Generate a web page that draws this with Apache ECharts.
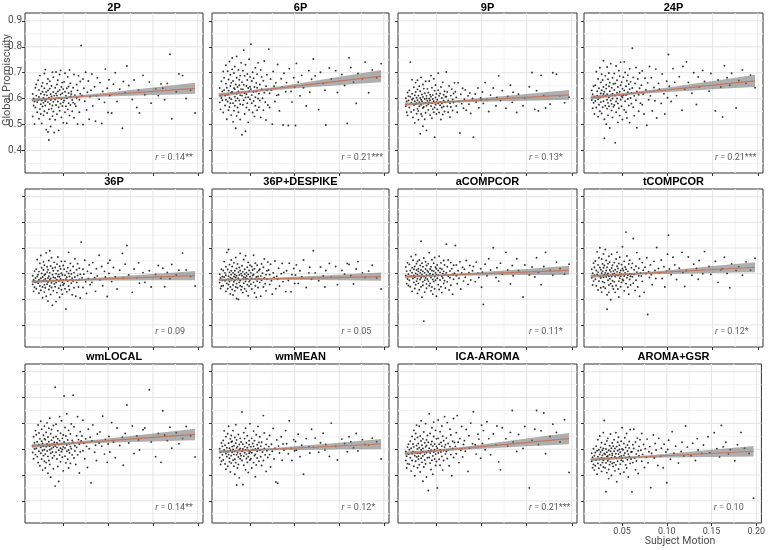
<!DOCTYPE html>
<html><head><meta charset="utf-8">
<script src="https://cdn.jsdelivr.net/npm/echarts@6/dist/echarts.min.js"></script>
<style>html,body{margin:0;padding:0;background:#fff}#c{width:768px;height:550px}</style>
</head><body><div id="c"></div>
<script>
// ---------------- data ----------------
const panelTitles = ['2P','6P','9P','24P','36P','36P+DESPIKE','aCOMPCOR','tCOMPCOR','wmLOCAL','wmMEAN','ICA-AROMA','AROMA+GSR'];
const rValues = ['0.14**','0.21***','0.13*','0.21***','0.09','0.05','0.11*','0.12*','0.14**','0.12*','0.21***','0.10'];
const yTickValues = [0.4,0.5,0.6,0.7,0.8,0.9];
const yMinorGrid = [0.35,0.45,0.55,0.65,0.75,0.85];
const xTickValues = [0.05,0.10,0.15,0.20];
const xMinorGrid = [0.025,0.075,0.125,0.175];

// subject motion (shared by all pipelines)
const motion = [
0.016,0.016,0.017,0.017,0.018,0.018,0.019,0.019,
0.020,0.020,0.021,0.021,0.022,0.022,0.023,0.023,0.023,0.024,0.024,0.025,0.025,0.025,0.026,0.026,0.026,0.027,0.027,0.027,0.028,0.028,0.028,0.029,0.029,0.029,0.029,0.030,
0.030,0.030,0.031,0.031,0.031,0.032,0.032,0.032,0.033,0.033,0.033,0.033,0.034,0.034,0.034,0.035,0.035,0.035,0.035,0.036,0.036,0.036,0.037,0.037,0.037,0.038,0.038,0.038,0.039,0.039,0.039,0.039,0.040,0.040,
0.041,0.041,0.041,0.042,0.042,0.042,0.043,0.043,0.043,0.044,0.044,0.044,0.045,0.045,0.045,0.046,0.046,0.046,0.047,0.047,0.047,0.048,0.048,0.048,0.049,0.049,0.049,0.050,0.050,0.050,
0.051,0.051,0.052,0.052,0.052,0.053,0.053,0.054,0.054,0.054,0.055,0.055,0.056,0.056,0.056,0.057,0.057,0.058,0.058,0.058,0.059,0.059,0.060,0.060,
0.061,0.061,0.062,0.062,0.063,0.063,0.064,0.065,0.065,0.066,0.066,0.067,0.068,0.068,0.069,0.069,0.070,
0.071,0.072,0.072,0.073,0.074,0.075,0.076,0.077,0.078,0.079,0.080,
0.081,0.082,0.083,0.085,0.086,0.087,0.088,0.090,
0.091,0.093,0.094,0.096,0.097,0.099,0.100,
0.101,0.102,0.104,0.106,0.108,0.110,0.113,0.116,0.117,0.119,
0.121,0.123,0.127,0.129,0.132,0.134,0.135,0.139,
0.141,0.146,0.148,0.153,0.156,0.159,
0.161,0.163,0.166,0.169,0.171,0.176,0.179,
0.183,0.187,0.192,0.197
];

const gp2P = [
0.532,0.618,0.601,0.574,0.503,0.589,0.642,0.566,
0.655,0.612,0.548,0.587,0.671,0.596,0.523,0.634,0.607,0.560,0.689,0.579,0.619,0.541,0.648,0.593,0.505,0.627,0.570,0.661,0.603,0.584,0.536,0.615,0.697,0.552,0.640,0.591,
0.712,0.574,0.626,0.481,0.598,0.658,0.545,0.613,0.472,0.587,0.676,0.632,0.559,0.604,0.441,0.639,0.580,0.521,0.667,0.595,0.617,0.493,0.649,0.562,0.609,0.702,0.574,0.533,0.626,0.588,0.683,0.551,0.612,0.470,
0.597,0.642,0.519,0.620,0.703,0.576,0.655,0.540,0.612,0.589,0.671,0.628,0.478,0.603,0.567,0.693,0.634,0.554,0.616,0.581,0.709,0.528,0.645,0.599,0.662,0.572,0.621,0.507,0.586,0.637,
0.665,0.593,0.548,0.627,0.698,0.612,0.571,0.640,0.506,0.602,0.684,0.559,0.622,0.647,0.583,0.711,0.535,0.609,0.660,0.576,0.628,0.617,0.595,0.552,
0.642,0.585,0.693,0.527,0.614,0.580,0.571,0.655,0.603,0.503,0.632,0.688,0.596,0.548,0.619,0.666,0.805,
0.613,0.676,0.501,0.640,0.590,0.702,0.557,0.625,0.668,0.521,0.608,
0.633,0.695,0.572,0.646,0.513,0.612,0.681,0.598,
0.662,0.505,0.628,0.586,0.714,0.640,0.547,
0.673,0.612,0.545,0.656,0.700,0.589,0.637,0.486,0.666,0.623,
0.726,0.651,0.597,0.672,0.566,0.634,0.545,0.690,
0.615,0.664,0.583,0.638,0.612,0.657,
0.640,0.596,0.659,0.771,0.523,0.627,0.695,
0.689,0.601,0.633,0.545
];
const gp6P = [
0.586,0.641,0.612,0.559,0.667,0.603,0.628,0.594,
0.705,0.547,0.633,0.681,0.574,0.612,0.729,0.596,0.658,0.521,0.642,0.589,0.706,0.615,0.556,0.674,0.631,0.604,0.743,0.568,0.649,0.583,0.692,0.537,0.624,0.661,0.598,0.713,
0.626,0.757,0.583,0.511,0.668,0.641,0.554,0.699,0.608,0.573,0.724,0.637,0.486,0.655,0.592,0.681,0.619,0.534,0.763,0.645,0.566,0.602,0.711,0.628,0.548,0.673,0.593,0.652,0.520,0.689,0.614,0.579,0.738,0.637,
0.664,0.461,0.612,0.708,0.577,0.636,0.787,0.594,0.654,0.541,0.688,0.622,0.475,0.605,0.731,0.649,0.566,0.617,0.695,0.583,0.672,0.509,0.641,0.606,0.752,0.629,0.557,0.684,0.598,0.646,
0.637,0.810,0.583,0.668,0.614,0.547,0.702,0.626,0.591,0.679,0.532,0.645,0.719,0.606,0.573,0.661,0.628,0.694,0.556,0.642,0.601,0.738,0.619,0.567,
0.655,0.593,0.711,0.528,0.637,0.684,0.602,0.556,0.669,0.623,0.745,0.587,0.648,0.518,0.692,0.632,0.576,
0.791,0.621,0.566,0.676,0.634,0.502,0.705,0.648,0.589,0.661,0.613,
0.732,0.615,0.553,0.677,0.644,0.499,0.698,0.627,
0.662,0.497,0.716,0.628,0.587,0.681,0.645,
0.497,0.736,0.664,0.611,0.690,0.642,0.572,0.708,0.625,0.675,
0.753,0.688,0.558,0.702,0.659,0.633,0.499,0.718,
0.676,0.708,0.624,0.693,0.651,0.505,
0.758,0.720,0.664,0.582,0.697,0.677,0.741,
0.623,0.711,0.681,0.735
];
const gp9P = [
0.571,0.602,0.548,0.589,0.624,0.536,0.593,0.610,
0.632,0.566,0.608,0.741,0.585,0.549,0.619,0.597,0.673,0.528,0.601,0.576,0.644,0.557,0.613,0.590,0.507,0.626,0.579,0.662,0.542,0.604,0.583,0.636,0.561,0.671,0.594,0.519,
0.612,0.553,0.587,0.648,0.571,0.465,0.603,0.629,0.541,0.596,0.682,0.577,0.616,0.533,0.590,0.655,0.564,0.607,0.494,0.582,0.639,0.568,0.599,0.521,0.621,0.584,0.546,0.667,0.601,0.573,0.478,0.611,0.592,0.638,
0.579,0.624,0.557,0.601,0.668,0.586,0.537,0.615,0.594,0.689,0.572,0.608,0.525,0.583,0.642,0.560,0.599,0.614,0.548,0.677,0.590,0.566,0.631,0.452,0.605,0.578,0.653,0.587,0.541,0.619,
0.596,0.559,0.633,0.582,0.698,0.611,0.547,0.575,0.620,0.588,0.520,0.645,0.566,0.603,0.582,0.663,0.539,0.615,0.592,0.570,0.629,0.551,0.608,0.586,
0.608,0.703,0.571,0.626,0.548,0.593,0.649,0.583,0.529,0.612,0.568,0.637,0.597,0.555,0.620,0.585,0.661,
0.627,0.572,0.605,0.548,0.661,0.589,0.468,0.617,0.581,0.640,0.563,
0.598,0.634,0.556,0.611,0.579,0.622,0.543,0.601,
0.452,0.618,0.587,0.641,0.565,0.603,0.596,
0.626,0.582,0.662,0.597,0.551,0.614,0.641,0.573,0.605,0.688,
0.593,0.631,0.563,0.609,0.652,0.586,0.625,0.547,
0.617,0.573,0.604,0.646,0.701,0.559,
0.631,0.553,0.690,0.612,0.564,0.579,0.700,
0.694,0.611,0.584,0.606
];
const gp24P = [
0.595,0.632,0.563,0.617,0.648,0.584,0.607,0.541,
0.652,0.591,0.704,0.566,0.629,0.612,0.531,0.676,0.598,0.640,0.577,0.719,0.605,0.552,0.663,0.620,0.587,0.694,0.543,0.633,0.609,0.672,0.567,0.618,0.746,0.590,0.645,0.521,
0.448,0.627,0.688,0.573,0.611,0.654,0.502,0.639,0.596,0.722,0.562,0.617,0.675,0.584,0.536,0.648,0.605,0.699,0.571,0.629,0.487,0.662,0.593,0.613,0.735,0.555,0.642,0.580,0.681,0.619,0.528,0.601,0.657,0.569,
0.634,0.576,0.697,0.612,0.430,0.659,0.589,0.726,0.548,0.623,0.671,0.601,0.509,0.645,0.582,0.708,0.616,0.563,0.687,0.627,0.535,0.652,0.596,0.741,0.610,0.571,0.664,0.520,0.639,0.605,
0.683,0.613,0.557,0.742,0.632,0.590,0.701,0.548,0.648,0.614,0.669,0.526,0.625,0.691,0.599,0.574,0.656,0.637,0.508,0.715,0.603,0.665,0.581,0.622,
0.794,0.641,0.567,0.682,0.611,0.534,0.659,0.720,0.594,0.628,0.488,0.676,0.615,0.552,0.699,0.640,0.583,
0.652,0.577,0.707,0.617,0.541,0.679,0.634,0.498,0.661,0.596,0.724,
0.611,0.681,0.553,0.643,0.592,0.714,0.526,0.659,
0.637,0.582,0.695,0.619,0.541,0.667,0.604,
0.770,0.648,0.589,0.716,0.663,0.612,0.685,0.556,0.724,0.637,
0.742,0.663,0.621,0.700,0.578,0.684,0.645,0.709,
0.666,0.629,0.697,0.553,0.672,0.645,
0.530,0.727,0.681,0.652,0.698,0.564,0.670,
0.711,0.659,0.691,0.642
];
const gp36P = [
0.558,0.592,0.531,0.575,0.610,0.547,0.583,0.566,
0.617,0.541,0.589,0.655,0.563,0.596,0.524,0.608,0.576,0.640,0.552,0.582,0.671,0.535,0.601,0.569,0.623,0.548,0.587,0.506,0.614,0.573,0.646,0.557,0.594,0.528,0.633,0.579,
0.598,0.545,0.681,0.571,0.512,0.606,0.559,0.627,0.583,0.493,0.615,0.567,0.651,0.538,0.590,0.575,0.689,0.552,0.603,0.519,0.630,0.581,0.564,0.662,0.546,0.596,0.477,0.621,0.572,0.611,0.533,0.586,0.644,0.560,
0.583,0.624,0.549,0.600,0.565,0.491,0.637,0.576,0.526,0.611,0.589,0.665,0.543,0.597,0.571,0.629,0.508,0.588,0.554,0.619,0.579,0.648,0.537,0.602,0.566,0.595,0.520,0.632,0.575,0.556,
0.617,0.562,0.594,0.541,0.648,0.578,0.462,0.608,0.586,0.529,0.623,0.571,0.601,0.552,0.683,0.589,0.537,0.612,0.575,0.640,0.563,0.599,0.518,0.582,
0.628,0.571,0.545,0.604,0.658,0.587,0.512,0.615,0.566,0.639,0.593,0.548,0.577,0.621,0.505,0.598,0.723,
0.584,0.617,0.546,0.598,0.652,0.568,0.523,0.609,0.581,0.634,0.557,
0.602,0.566,0.643,0.584,0.531,0.619,0.591,0.672,
0.576,0.628,0.553,0.609,0.587,0.511,0.641,
0.601,0.652,0.569,0.624,0.588,0.540,0.613,0.679,0.582,0.637,
0.710,0.595,0.527,0.618,0.584,0.642,0.563,0.604,
0.566,0.611,0.548,0.597,0.632,0.582,
0.621,0.549,0.605,0.580,0.636,0.595,0.613,
0.680,0.614,0.590,0.552
];
const gp36PDespike = [
0.565,0.598,0.542,0.583,0.617,0.552,0.589,0.574,
0.612,0.553,0.587,0.647,0.572,0.603,0.531,0.594,0.627,0.562,0.683,0.578,0.541,0.616,0.590,0.694,0.557,0.605,0.569,0.635,0.548,0.584,0.521,0.611,0.576,0.653,0.596,0.538,
0.581,0.628,0.556,0.603,0.517,0.589,0.642,0.568,0.611,0.533,0.597,0.574,0.663,0.548,0.585,0.620,0.503,0.592,0.561,0.638,0.577,0.545,0.606,0.582,0.499,0.624,0.566,0.595,0.679,0.553,0.612,0.573,0.537,0.600,
0.592,0.549,0.631,0.578,0.607,0.526,0.586,0.655,0.563,0.598,0.617,0.541,0.583,0.670,0.570,0.604,0.532,0.591,0.625,0.557,0.580,0.644,0.514,0.597,0.569,0.612,0.551,0.588,0.633,0.575,
0.603,0.559,0.628,0.581,0.540,0.614,0.593,0.672,0.566,0.597,0.525,0.619,0.578,0.641,0.553,0.587,0.508,0.606,0.571,0.633,0.589,0.546,0.612,0.580,
0.566,0.617,0.591,0.512,0.638,0.574,0.602,0.548,0.625,0.583,0.657,0.561,0.596,0.533,0.611,0.578,0.645,
0.614,0.558,0.596,0.637,0.572,0.520,0.603,0.585,0.649,0.541,0.590,
0.578,0.621,0.552,0.600,0.640,0.569,0.605,0.530,
0.611,0.573,0.641,0.529,0.596,0.620,0.562,
0.595,0.634,0.562,0.611,0.587,0.653,0.546,0.603,0.625,0.578,
0.689,0.603,0.572,0.626,0.591,0.548,0.612,0.640,
0.586,0.628,0.557,0.612,0.598,0.640,
0.636,0.592,0.560,0.618,0.647,0.603,0.585,
0.610,0.633,0.583,0.540
];
const gpACompCor = [
0.593,0.626,0.561,0.610,0.579,0.642,0.554,0.598,
0.636,0.574,0.612,0.549,0.667,0.590,0.623,0.531,0.604,0.581,0.652,0.566,0.617,0.593,0.542,0.628,0.586,0.674,0.557,0.601,0.639,0.571,0.614,0.523,0.596,0.648,0.580,0.609,
0.562,0.619,0.591,0.653,0.537,0.603,0.577,0.632,0.549,0.614,0.726,0.584,0.508,0.597,0.641,0.568,0.609,0.555,0.627,0.589,0.415,0.661,0.574,0.603,0.528,0.618,0.583,0.646,0.560,0.595,0.632,0.543,0.611,0.578,
0.606,0.571,0.639,0.553,0.594,0.682,0.618,0.562,0.600,0.533,0.627,0.585,0.654,0.548,0.612,0.577,0.520,0.597,0.641,0.569,0.610,0.589,0.663,0.541,0.603,0.625,0.574,0.596,0.512,0.619,
0.582,0.634,0.557,0.612,0.594,0.668,0.538,0.605,0.621,0.575,0.549,0.642,0.590,0.617,0.526,0.600,0.583,0.651,0.562,0.609,0.572,0.634,0.544,0.597,
0.715,0.604,0.568,0.627,0.591,0.653,0.536,0.610,0.584,0.643,0.555,0.619,0.597,0.520,0.633,0.578,0.602,
0.710,0.592,0.634,0.561,0.611,0.582,0.646,0.540,0.603,0.625,0.571,
0.617,0.586,0.651,0.558,0.604,0.632,0.575,0.611,
0.628,0.569,0.645,0.602,0.585,0.619,0.547,
0.606,0.480,0.637,0.592,0.658,0.614,0.701,0.585,0.623,0.571,
0.641,0.598,0.683,0.614,0.560,0.632,0.592,0.658,
0.612,0.509,0.634,0.595,0.626,0.587,
0.662,0.605,0.557,0.628,0.683,0.613,0.594,
0.645,0.620,0.598,0.637
];
const gpTCompCor = [
0.584,0.617,0.556,0.602,0.641,0.571,0.593,0.625,
0.649,0.578,0.612,0.553,0.685,0.597,0.634,0.536,0.606,0.662,0.571,0.624,0.590,0.701,0.545,0.615,0.583,0.657,0.602,0.528,0.638,0.569,0.609,0.677,0.586,0.623,0.549,0.596,
0.632,0.565,0.603,0.694,0.543,0.612,0.587,0.651,0.518,0.596,0.625,0.461,0.574,0.639,0.601,0.556,0.668,0.590,0.527,0.614,0.580,0.645,0.561,0.607,0.498,0.622,0.589,0.676,0.551,0.598,0.633,0.572,0.610,0.540,
0.601,0.643,0.568,0.615,0.589,0.527,0.657,0.596,0.554,0.629,0.607,0.683,0.540,0.593,0.620,0.571,0.640,0.509,0.604,0.582,0.664,0.549,0.612,0.590,0.635,0.566,0.598,0.705,0.577,0.620,
0.612,0.573,0.648,0.591,0.533,0.626,0.603,0.762,0.561,0.617,0.584,0.669,0.547,0.609,0.594,0.638,0.520,0.600,0.577,0.652,0.590,0.556,0.623,0.598,
0.640,0.588,0.737,0.563,0.615,0.597,0.534,0.629,0.574,0.682,0.606,0.548,0.621,0.592,0.657,0.512,0.603,
0.591,0.643,0.570,0.613,0.527,0.625,0.600,0.662,0.441,0.608,0.585,
0.634,0.596,0.557,0.648,0.612,0.581,0.702,0.620,
0.603,0.653,0.581,0.627,0.548,0.610,0.676,
0.750,0.618,0.596,0.664,0.634,0.577,0.621,0.683,0.604,0.550,
0.612,0.665,0.594,0.637,0.620,0.578,0.651,0.600,
0.686,0.628,0.597,0.648,0.566,0.615,
0.619,0.664,0.601,0.545,0.638,0.612,0.627,
0.594,0.646,0.613,0.660
];
const gpWmLocal = [
0.612,0.587,0.648,0.563,0.625,0.601,0.672,0.579,
0.603,0.656,0.571,0.629,0.694,0.548,0.617,0.592,0.663,0.536,0.640,0.584,0.708,0.607,0.562,0.631,0.677,0.595,0.519,0.622,0.654,0.575,0.611,0.689,0.553,0.640,0.598,0.527,
0.637,0.581,0.665,0.609,0.548,0.702,0.620,0.593,0.507,0.647,0.572,0.614,0.681,0.556,0.629,0.598,0.720,0.541,0.612,0.660,0.584,0.491,0.635,0.603,0.676,0.566,0.619,0.589,0.645,0.524,0.608,0.692,0.575,0.627,
0.840,0.612,0.457,0.649,0.588,0.697,0.625,0.562,0.607,0.671,0.533,0.640,0.596,0.475,0.618,0.726,0.577,0.633,0.604,0.551,0.662,0.590,0.710,0.621,0.569,0.642,0.599,0.516,0.655,0.609,
0.806,0.628,0.573,0.684,0.605,0.547,0.651,0.616,0.592,0.737,0.561,0.636,0.597,0.673,0.527,0.621,0.586,0.659,0.610,0.545,0.698,0.602,0.634,0.578,
0.809,0.626,0.566,0.687,0.613,0.593,0.541,0.652,0.607,0.726,0.578,0.637,0.508,0.619,0.668,0.590,0.632,
0.651,0.594,0.712,0.623,0.563,0.640,0.611,0.529,0.677,0.602,0.646,
0.470,0.633,0.694,0.588,0.615,0.556,0.659,0.624,
0.667,0.612,0.728,0.581,0.638,0.549,0.620,
0.649,0.589,0.703,0.628,0.567,0.682,0.614,0.646,0.538,0.661,
0.771,0.624,0.690,0.583,0.651,0.636,0.597,0.675,
0.682,0.830,0.628,0.571,0.661,0.549,
0.749,0.655,0.633,0.685,0.604,0.664,0.621,
0.641,0.688,0.652,0.570
];
const gpWmMean = [
0.567,0.602,0.541,0.589,0.624,0.553,0.578,0.611,
0.634,0.558,0.597,0.671,0.543,0.615,0.583,0.648,0.522,0.606,0.571,0.660,0.591,0.534,0.623,0.579,0.689,0.551,0.604,0.565,0.640,0.512,0.596,0.628,0.575,0.653,0.546,0.610,
0.588,0.631,0.557,0.599,0.672,0.534,0.613,0.580,0.645,0.503,0.592,0.561,0.623,0.695,0.548,0.605,0.461,0.578,0.636,0.586,0.527,0.610,0.570,0.657,0.541,0.597,0.618,0.489,0.582,0.642,0.563,0.603,0.575,0.628,
0.744,0.592,0.556,0.619,0.463,0.601,0.664,0.573,0.538,0.610,0.586,0.641,0.520,0.597,0.681,0.564,0.625,0.580,0.549,0.606,0.652,0.571,0.595,0.510,0.633,0.584,0.617,0.558,0.699,0.590,
0.609,0.563,0.642,0.586,0.527,0.622,0.598,0.670,0.548,0.611,0.575,0.633,0.493,0.601,0.580,0.656,0.539,0.617,0.592,0.566,0.688,0.604,0.553,0.626,
0.596,0.648,0.571,0.612,0.537,0.627,0.589,0.730,0.556,0.603,0.663,0.578,0.618,0.514,0.594,0.639,0.568,
0.610,0.579,0.653,0.531,0.619,0.592,0.680,0.562,0.604,0.473,0.636,
0.468,0.612,0.585,0.648,0.557,0.620,0.597,0.672,
0.621,0.582,0.710,0.603,0.556,0.637,0.594,
0.630,0.596,0.658,0.571,0.615,0.503,0.641,0.609,0.585,0.677,
0.607,0.643,0.588,0.625,0.662,0.597,0.618,0.572,
0.701,0.611,0.558,0.639,0.622,0.590,
0.648,0.629,0.605,0.661,0.593,0.637,0.618,
0.617,0.643,0.629,0.562
];
const gpIcaAroma = [
0.556,0.591,0.527,0.573,0.608,0.544,0.581,0.619,
0.598,0.542,0.631,0.567,0.604,0.515,0.649,0.582,0.556,0.620,0.591,0.673,0.534,0.609,0.575,0.638,0.497,0.587,0.661,0.553,0.614,0.570,0.693,0.528,0.601,0.584,0.645,0.561,
0.622,0.573,0.689,0.540,0.606,0.583,0.651,0.512,0.597,0.632,0.565,0.710,0.549,0.615,0.588,0.476,0.640,0.574,0.603,0.531,0.667,0.590,0.558,0.625,0.580,0.699,0.543,0.609,0.492,0.636,0.586,0.614,0.567,0.653,
0.593,0.440,0.627,0.568,0.737,0.604,0.546,0.661,0.585,0.521,0.618,0.596,0.683,0.557,0.630,0.574,0.612,0.503,0.649,0.589,0.705,0.562,0.620,0.598,0.537,0.673,0.581,0.611,0.552,0.640,
0.604,0.450,0.642,0.585,0.713,0.619,0.561,0.597,0.668,0.538,0.626,0.589,0.690,0.572,0.612,0.519,0.650,0.595,0.633,0.556,0.608,0.726,0.581,0.617,
0.643,0.591,0.703,0.564,0.622,0.598,0.536,0.677,0.610,0.579,0.655,0.497,0.631,0.603,0.719,0.568,0.626,
0.611,0.664,0.582,0.730,0.627,0.548,0.641,0.596,0.688,0.570,0.618,
0.633,0.592,0.676,0.514,0.652,0.604,0.701,0.621,
0.745,0.617,0.581,0.658,0.639,0.565,0.693,
0.622,0.672,0.598,0.706,0.641,0.578,0.659,0.616,0.690,0.551,
0.520,0.683,0.640,0.612,0.665,0.750,0.628,0.591,
0.657,0.603,0.688,0.450,0.634,0.677,
0.750,0.618,0.671,0.740,0.582,0.649,0.697,
0.665,0.628,0.714,0.510
];
const gpAromaGsr = [
0.553,0.584,0.528,0.569,0.602,0.541,0.575,0.519,
0.587,0.536,0.612,0.558,0.594,0.503,0.571,0.637,0.545,0.598,0.526,0.580,0.651,0.561,0.607,0.539,0.589,0.514,0.625,0.567,0.596,0.548,0.576,0.664,0.531,0.603,0.557,0.583,
0.711,0.564,0.528,0.619,0.580,0.435,0.547,0.601,0.571,0.632,0.509,0.588,0.555,0.642,0.574,0.521,0.596,0.563,0.486,0.613,0.579,0.540,0.659,0.592,0.551,0.604,0.567,0.498,0.583,0.624,0.545,0.576,0.612,0.533,
0.592,0.548,0.637,0.571,0.516,0.603,0.582,0.664,0.539,0.610,0.565,0.474,0.594,0.627,0.553,0.581,0.646,0.523,0.599,0.570,0.615,0.542,0.588,0.505,0.631,0.574,0.557,0.601,0.683,0.566,
0.598,0.553,0.622,0.576,0.511,0.644,0.585,0.539,0.607,0.568,0.661,0.527,0.593,0.616,0.559,0.581,0.492,0.630,0.572,0.605,0.545,0.676,0.589,0.562,
0.435,0.590,0.617,0.548,0.677,0.603,0.566,0.520,0.628,0.581,0.554,0.643,0.594,0.506,0.611,0.575,0.637,
0.596,0.553,0.661,0.580,0.618,0.529,0.602,0.569,0.639,0.547,0.590,
0.610,0.451,0.583,0.655,0.566,0.622,0.597,0.537,
0.642,0.573,0.604,0.528,0.619,0.589,0.470,
0.599,0.635,0.561,0.668,0.584,0.612,0.546,0.591,0.627,0.574,
0.690,0.608,0.575,0.623,0.556,0.641,0.597,0.583,
0.616,0.648,0.585,0.664,0.602,0.570,
0.692,0.609,0.627,0.581,0.598,0.555,0.617,
0.665,0.604,0.583,0.410
];
const panelValues = [gp2P, gp6P, gp9P, gp24P, gp36P, gp36PDespike, gpACompCor, gpTCompCor, gpWmLocal, gpWmMean, gpIcaAroma, gpAromaGsr];

// fitted regression line, read at its two ends
const fitX = [0.015, 0.197];
const fitStart = [0.595,0.614,0.578,0.604,0.569,0.576,0.588,0.590,0.612,0.590,0.583,0.560];
const fitEnd   = [0.640,0.687,0.615,0.669,0.592,0.588,0.613,0.625,0.657,0.620,0.641,0.592];
// confidence band half-width read at these x positions
const bandX = [0.015,0.035,0.055,0.08,0.10,0.125,0.15,0.175,0.197];
const bandHalf = [
[0.0072,0.0052,0.0045,0.0057,0.0078,0.0110,0.0144,0.0179,0.0210],
[0.0081,0.0058,0.0049,0.0063,0.0087,0.0123,0.0161,0.0200,0.0235],
[0.0065,0.0047,0.0040,0.0051,0.0071,0.0100,0.0130,0.0162,0.0190],
[0.0081,0.0058,0.0049,0.0063,0.0087,0.0123,0.0161,0.0200,0.0235],
[0.0062,0.0045,0.0038,0.0048,0.0067,0.0095,0.0123,0.0153,0.0180],
[0.0055,0.0040,0.0034,0.0043,0.0060,0.0084,0.0110,0.0136,0.0160],
[0.0060,0.0043,0.0036,0.0047,0.0065,0.0092,0.0120,0.0149,0.0175],
[0.0067,0.0048,0.0040,0.0052,0.0073,0.0102,0.0134,0.0166,0.0195],
[0.0077,0.0056,0.0047,0.0061,0.0084,0.0118,0.0154,0.0191,0.0225],
[0.0065,0.0047,0.0040,0.0051,0.0071,0.0100,0.0130,0.0162,0.0190],
[0.0076,0.0055,0.0046,0.0059,0.0082,0.0116,0.0151,0.0187,0.0220],
[0.0071,0.0051,0.0043,0.0055,0.0076,0.0108,0.0141,0.0174,0.0205]
];
const annotX = 0.152, annotY = 0.372;

// ---------------- layout / style ----------------
const X_MIN = 0.0074, X_MAX = 0.2058, Y_MIN = 0.314, Y_MAX = 0.93;
const colLeft = [25, 212, 398, 584], colWidth = [178, 177, 179, 179];
const rowTop = [13, 189, 364], rowHeight = [160, 158, 159];
const FONT = 'Roboto, "Liberation Sans", sans-serif';

function fitAt(p, x) {
  return fitStart[p] + (fitEnd[p] - fitStart[p]) * (x - fitX[0]) / (fitX[1] - fitX[0]);
}

const grids = [], xAxes = [], yAxes = [], series = [], graphics = [];
for (let p = 0; p < 12; p++) {
  const r = Math.floor(p / 4), c = p % 4;
  grids.push({left: colLeft[c], top: rowTop[r], width: colWidth[c], height: rowHeight[r],
    show: true, borderColor: '#333', borderWidth: 1, backgroundColor: '#fff', containLabel: false});
  xAxes.push({type: 'value', gridIndex: p, min: X_MIN, max: X_MAX,
    axisLine: {show: false}, splitLine: {show: false},
    axisTick: {show: true, customValues: xTickValues, length: 3, lineStyle: {color: '#333', width: 1}},
    axisLabel: {show: p === 11, customValues: xTickValues, formatter: v => v.toFixed(2), margin: 4,
      fontSize: 9, color: '#4d4d4d', fontFamily: FONT}});
  yAxes.push({type: 'value', gridIndex: p, min: Y_MIN, max: Y_MAX,
    axisLine: {show: false}, splitLine: {show: false},
    axisTick: {show: true, customValues: yTickValues, length: 3, lineStyle: {color: '#333', width: 1}},
    axisLabel: {show: p === 0, customValues: yTickValues, formatter: v => v.toFixed(1), margin: 3,
      fontSize: 10, color: '#4d4d4d', fontFamily: FONT}});

  // background grid lines
  series.push({type: 'custom', xAxisIndex: p, yAxisIndex: p, silent: true, z: 1,
    data: [[X_MIN, Y_MIN]],
    renderItem: (params, api) => {
      const children = [];
      const addV = (v, col) => { const a = api.coord([v, Y_MIN]), b = api.coord([v, Y_MAX]);
        children.push({type: 'line', shape: {x1: a[0], y1: a[1], x2: b[0], y2: b[1]}, style: {stroke: col, lineWidth: 1}}); };
      const addH = (v, col) => { const a = api.coord([X_MIN, v]), b = api.coord([X_MAX, v]);
        children.push({type: 'line', shape: {x1: a[0], y1: a[1], x2: b[0], y2: b[1]}, style: {stroke: col, lineWidth: 1}}); };
      xMinorGrid.forEach(v => addV(v, '#f2f2f2'));
      yMinorGrid.forEach(v => addH(v, '#f2f2f2'));
      xTickValues.forEach(v => addV(v, '#e3e3e3'));
      yTickValues.forEach(v => addH(v, '#e3e3e3'));
      return {type: 'group', children};
    }});

  // points
  series.push({type: 'scatter', xAxisIndex: p, yAxisIndex: p, z: 2, silent: true,
    symbolSize: 1.9, itemStyle: {color: '#000'},
    data: motion.map((x, i) => [x, panelValues[p][i]])});

  // confidence band
  series.push({type: 'custom', xAxisIndex: p, yAxisIndex: p, silent: true, z: 3,
    data: [[X_MIN, Y_MIN]],
    renderItem: (params, api) => {
      const up = [], lo = [];
      for (let i = 0; i < bandX.length; i++) {
        const f = fitAt(p, bandX[i]);
        up.push(api.coord([bandX[i], f + bandHalf[p][i]]));
        lo.push(api.coord([bandX[i], f - bandHalf[p][i]]));
      }
      return {type: 'polygon', shape: {points: up.concat(lo.reverse())},
        style: {fill: 'rgba(110,110,110,0.55)'}};
    }});

  // regression line
  series.push({type: 'line', xAxisIndex: p, yAxisIndex: p, z: 4, silent: true,
    symbol: 'none', lineStyle: {color: '#c07a62', width: 1.2},
    data: [[fitX[0], fitStart[p]], [fitX[1], fitEnd[p]]]});

  // r annotation
  series.push({type: 'scatter', xAxisIndex: p, yAxisIndex: p, z: 5, silent: true,
    symbolSize: 1, itemStyle: {color: 'rgba(0,0,0,0)'},
    data: [[annotX, annotY]],
    label: {show: true, position: 'right', distance: 0,
      formatter: '{i|r} = ' + rValues[p],
      fontSize: 9, color: '#333', fontFamily: FONT,
      rich: {i: {fontStyle: 'italic', fontSize: 9, color: '#333', fontFamily: FONT}}}});

  // panel title
  graphics.push({type: 'text', x: colLeft[c] + colWidth[c] / 2, y: [8, 182, 357][r],
    style: {text: panelTitles[p], align: 'center', verticalAlign: 'middle',
      fontSize: 11, fontWeight: 'bold', fontFamily: '"Liberation Sans", Arial, sans-serif', fill: '#000'}});
}
graphics.push({type: 'text', x: 7, y: 80, rotation: Math.PI / 2,
  style: {text: 'Global Promiscuity', align: 'center', verticalAlign: 'middle',
    fontSize: 11, fontFamily: FONT, fill: '#4d4d4d'}});
graphics.push({type: 'text', x: 680, y: 541,
  style: {text: 'Subject Motion', align: 'center', verticalAlign: 'middle',
    fontSize: 10.5, fontFamily: FONT, fill: '#4d4d4d'}});

const chart = echarts.init(document.getElementById('c'), null, {renderer: 'canvas'});
chart.setOption({animation: false, backgroundColor: '#fff',
  grid: grids, xAxis: xAxes, yAxis: yAxes, series: series, graphic: graphics});
</script>
</body></html>
